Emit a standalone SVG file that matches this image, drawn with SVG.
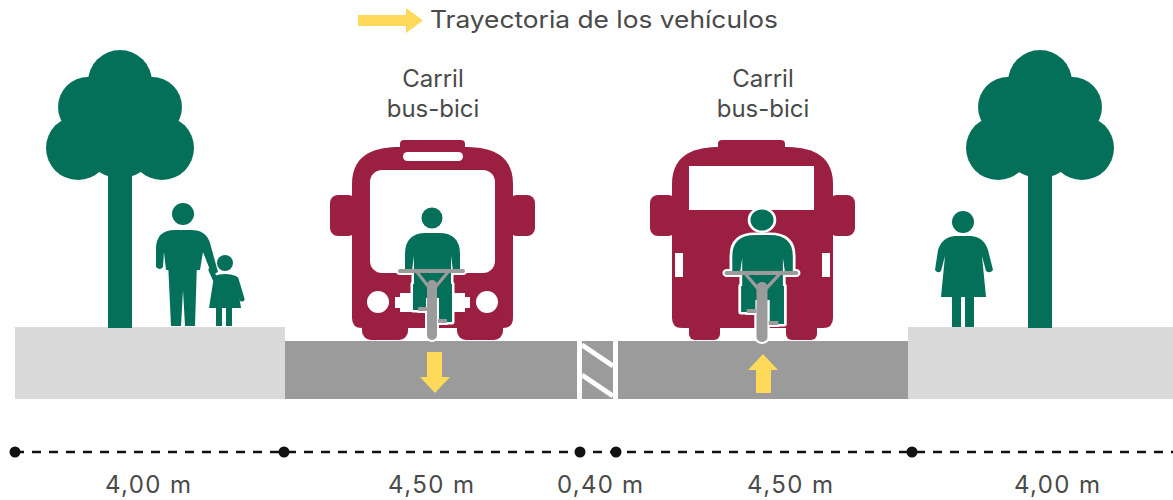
<svg xmlns="http://www.w3.org/2000/svg" xmlns:xlink="http://www.w3.org/1999/xlink" width="1173" height="500" viewBox="0 0 1173 500">
  <style>
    .green { fill: #05705a; }
    .bus { fill: #9b1f40; }
    .hole { fill: #ffffff; }
    .walk { fill: #dadada; }
    .road { fill: #9b9b9b; }
    .yellow { fill: #ffd95a; }
    .label { font-family: Inter, "Open Sans", sans-serif; fill: #4a4a4a; }
    .dim { font-family: Inter, "Open Sans", sans-serif; font-size: 24px; fill: #4a4a4a; text-anchor: middle; }
  </style>
  <defs>
    <!-- tree: canopy made of overlapping circles, trunk below -->
    <g id="tree">
      <rect x="108" y="160" width="24" height="168"/>
      <circle cx="120" cy="82" r="32"/>
      <circle cx="88" cy="107" r="30"/>
      <circle cx="152" cy="107" r="30"/>
      <circle cx="78" cy="148" r="32"/>
      <circle cx="162" cy="148" r="32"/>
      <circle cx="120" cy="138" r="40"/>
    </g>
    <!-- rider seen from front/back, origin at head centre -->
    <g id="rider-body">
      <circle cx="0" cy="0" r="10.5"/>
      <path d="M-27,53 L-27,36 Q-27,15 -6,15 L7,15 Q28,15 28,36 L28,53 L21,53 L19,38 L19,80 L-18,80 L-18,38 L-20,53 Z"/>
      <path d="M-19,66 L-6,66 L-6,92 L-19,92 Z"/>
      <path d="M7,66 L20,66 L20,104 L7,104 Z"/>
    </g>
    <g id="bike">
      <rect x="-34" y="51" width="67" height="4" rx="2"/>
      <path d="M-17,54 L-3,72 L3,72 L18,54 L15,53 L2,68 L-2,68 L-14,53 Z"/>
      <rect x="-14" y="89" width="9" height="4" rx="1"/>
      <rect x="6" y="101" width="9" height="4" rx="1"/>
      <rect x="-5" y="62" width="10" height="60" rx="5"/>
    </g>
    <g id="cyclist">
      <use xlink:href="#rider-body" fill="#ffffff" stroke="#ffffff" stroke-width="5" stroke-linejoin="round"/>
      <use xlink:href="#bike" fill="#ffffff" stroke="#ffffff" stroke-width="4" stroke-linejoin="round"/>
      <use xlink:href="#rider-body" fill="#05705a"/>
      <use xlink:href="#bike" fill="#9b9b9b"/>
    </g>
  </defs>

  <!-- legend -->
  <g id="legend">
    <rect class="yellow" x="358" y="15" width="50" height="11"/>
    <polygon class="yellow" points="406,8 423,20.5 406,33"/>
    <text class="label" x="430" y="28" font-size="24" textLength="348" lengthAdjust="spacingAndGlyphs">Trayectoria de los vehículos</text>
  </g>

  <!-- ground: sidewalks, lanes and median -->
  <g id="ground">
    <rect class="walk" x="15" y="327" width="270" height="72"/>
    <rect class="road" x="285" y="341" width="292" height="58"/>
    <rect class="road" x="582" y="341" width="31" height="58"/>
    <rect class="road" x="618" y="341" width="290" height="58"/>
    <rect class="walk" x="908" y="327" width="265" height="72"/>
    <line x1="582" y1="345" x2="613" y2="366" stroke="#ffffff" stroke-width="5"/>
    <line x1="582" y1="375" x2="613" y2="396" stroke="#ffffff" stroke-width="5"/>
  </g>

  <!-- lane direction arrows -->
  <g id="arrow-down">
    <rect class="yellow" x="427" y="352" width="15" height="26"/>
    <polygon class="yellow" points="420,377 450,377 435,393"/>
  </g>
  <g id="arrow-up">
    <polygon class="yellow" points="748,370 778,370 763,354"/>
    <rect class="yellow" x="756" y="369" width="15" height="24"/>
  </g>

  <!-- trees -->
  <g id="tree-left" class="green"><use xlink:href="#tree"/></g>
  <g id="tree-right" class="green"><use xlink:href="#tree" transform="translate(920,0)"/></g>

  <!-- pedestrians -->
  <g id="adult" class="green">
    <circle cx="183" cy="214" r="11"/>
    <path d="M156,267 L156,249 Q156,230 175,230 L191,230 Q206,230 210,243 L218,272 L212,275 L203,252 L200,270 L166,270 L164,252 L163,267 Q160,271 156,267 Z"/>
    <path d="M168,262 L197,262 L195,326 L185,326 L183,290 L181,326 L171,326 Z"/>
  </g>
  <g id="child" class="green">
    <circle cx="225" cy="263" r="8"/>
    <path d="M214,276 Q225,272 236,276 L241,308 L209,308 Z"/>
    <path d="M215,279 L211,270" stroke="#05705a" stroke-width="5" stroke-linecap="round"/>
    <path d="M236,279 L242,299" stroke="#05705a" stroke-width="5" stroke-linecap="round"/>
    <rect x="216" y="305" width="6" height="21"/>
    <rect x="226" y="305" width="6" height="21"/>
  </g>
  <g id="woman" class="green">
    <circle cx="963" cy="222" r="11"/>
    <path d="M935,270 L938,250 Q942,237 955,236 L971,236 Q984,237 988,250 L993,270 Q990,274 986,271 L982,256 L986,297 L941,297 L945,256 L941,271 Q938,274 935,270 Z"/>
    <rect x="952" y="294" width="9" height="33"/>
    <rect x="965" y="294" width="9" height="33"/>
  </g>

  <!-- bus seen from the front, left lane -->
  <g id="bus-front">
    <g class="bus">
      <rect x="400" y="140" width="65" height="14" rx="4"/>
      <rect x="330" y="195" width="26" height="41" rx="8"/>
      <rect x="509" y="195" width="26" height="41" rx="8"/>
      <path d="M352,184 C352,152 378,147 400,147 L465,147 C487,147 513,152 513,184 L513,318 Q513,328 503,328 L362,328 Q352,328 352,318 Z"/>
      <rect x="362" y="312" width="46" height="28" rx="9"/>
      <rect x="457" y="312" width="46" height="28" rx="9"/>
    </g>
    <rect class="hole" x="403" y="152" width="60" height="9" rx="4.5"/>
    <rect class="hole" x="370" y="170" width="125" height="103" rx="12"/>
    <circle class="hole" cx="378" cy="302" r="11"/>
    <circle class="hole" cx="487" cy="302" r="11"/>
    <rect class="hole" x="400" y="293" width="65" height="19"/>
    <rect class="hole" x="395" y="297" width="75" height="11"/>
    <rect class="hole" x="408" y="328" width="49" height="12"/>
  </g>
  <g id="cyclist-left"><use xlink:href="#cyclist" transform="translate(432,218)"/></g>

  <!-- bus seen from the back, right lane -->
  <g id="bus-back">
    <g class="bus">
      <rect x="718" y="140" width="67" height="14" rx="4"/>
      <rect x="650" y="195" width="26" height="41" rx="8"/>
      <rect x="829" y="195" width="26" height="41" rx="8"/>
      <path d="M672,184 C672,152 698,147 720,147 L785,147 C807,147 833,152 833,184 L833,318 Q833,328 823,328 L682,328 Q672,328 672,318 Z"/>
      <rect x="689" y="312" width="31" height="28" rx="6"/>
      <rect x="786" y="312" width="31" height="28" rx="6"/>
    </g>
    <rect class="hole" x="689" y="166" width="125" height="44"/>
    <rect class="hole" x="675" y="253" width="8" height="24"/>
    <rect class="hole" x="822" y="253" width="8" height="24"/>
    <rect class="hole" x="720" y="328" width="66" height="12"/>
  </g>
  <g id="cyclist-right"><use xlink:href="#cyclist" transform="translate(762,220) scale(1.1,1)"/></g>

  <!-- lane titles -->
  <g id="titles" class="label" font-size="24" text-anchor="middle">
    <text x="433" y="87">Carril<tspan x="433" dy="30">bus-bici</tspan></text>
    <text x="763" y="87">Carril<tspan x="763" dy="30">bus-bici</tspan></text>
  </g>

  <!-- dimension line -->
  <g id="dimensions">
    <line x1="15" y1="452" x2="1173" y2="452" stroke="#111111" stroke-width="2.5" stroke-dasharray="9 8"/>
    <g fill="#111111">
      <circle cx="15" cy="452" r="5.5"/>
      <circle cx="284" cy="452" r="5.5"/>
      <circle cx="580" cy="452" r="5.5"/>
      <circle cx="616" cy="452" r="5.5"/>
      <circle cx="912" cy="452" r="5.5"/>
    </g>
    <text class="dim" x="148" y="493" textLength="86">4,00 m</text>
    <text class="dim" x="431" y="493" textLength="86">4,50 m</text>
    <text class="dim" x="600" y="493" textLength="86">0,40 m</text>
    <text class="dim" x="790" y="493" textLength="86">4,50 m</text>
    <text class="dim" x="1057" y="493" textLength="86">4,00 m</text>
  </g>
</svg>
